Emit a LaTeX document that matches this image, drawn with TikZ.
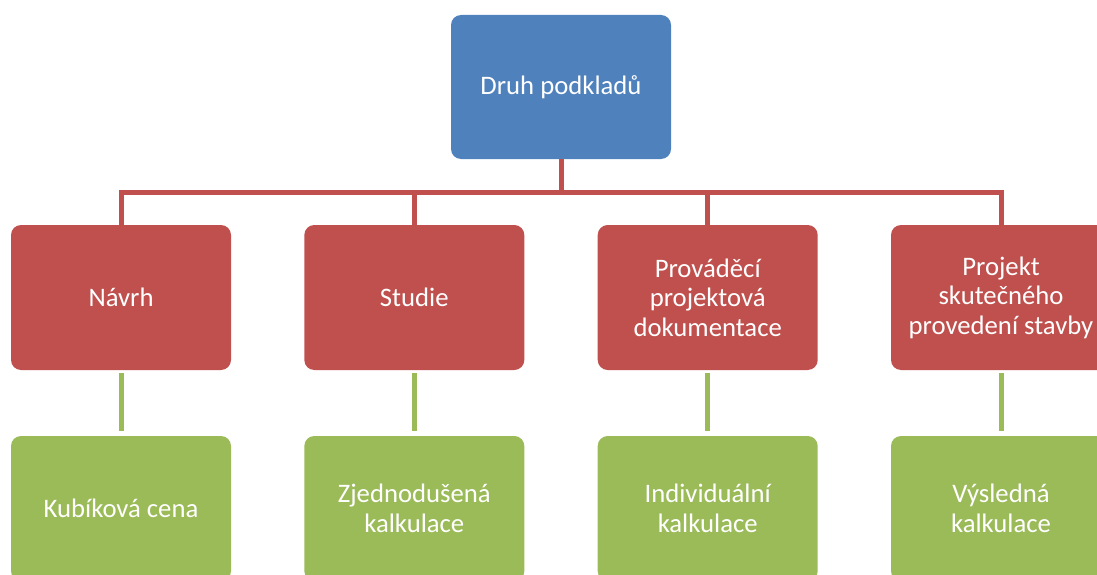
\documentclass[tikz,border=0pt]{standalone}
\usepackage{fontspec}
\setmainfont{Carlito}
\usepackage{tikz}
\definecolor{dblue}{RGB}{79,129,189}
\definecolor{dred}{RGB}{192,80,77}
\definecolor{dgreen}{RGB}{155,187,89}
\tikzset{
  box/.style={rounded corners=10pt, minimum width=220pt, minimum height=145pt, inner sep=2pt,
    text=white, align=center, font=\fontsize{26.7}{29.5}\selectfont},
  redline/.style={draw=dred, line width=5pt},
  greenline/.style={draw=dgreen, line width=5pt, shorten <=3pt, shorten >=5pt}
}

\begin{document}
\begin{tikzpicture}[x=1pt, y=-1pt]
\useasboundingbox (0,0) rectangle (1097,575);
\node[box, fill=dblue, minimum height=144pt] (druh) at (561,87) {Druh podkladů};
\coordinate (bus) at (561,192);
% red row
\node[box, fill=dred] (navrh) at (121,297.5) {Návrh};
\node[box, fill=dred] (studie) at (414.3,297.5) {Studie};
\node[box, fill=dred] (provadeci) at (707.7,297.5) {Prováděcí\\projektová\\dokumentace};
\node[box, fill=dred] (skutecny) at (1001,297.5) {Projekt\\skutečného\\provedení stavby};
% green row
\node[box, fill=dgreen] (kubik) at (121,508.5) {Kubíková cena};
\node[box, fill=dgreen] (zjedn) at (414.3,508.5) {Zjednodušená\\kalkulace};
\node[box, fill=dgreen] (indiv) at (707.7,508.5) {Individuální\\kalkulace};
\node[box, fill=dgreen] (vysl) at (1001,508.5) {Výsledná\\kalkulace};
% connectors
\draw[redline] (druh.south) -- (bus);
\foreach \n in {navrh,studie,provadeci,skutecny}
  \draw[redline] (bus) -| (\n.north);
\draw[greenline] (navrh) -- (kubik);
\draw[greenline] (studie) -- (zjedn);
\draw[greenline] (provadeci) -- (indiv);
\draw[greenline] (skutecny) -- (vysl);
\end{tikzpicture}
\end{document}
